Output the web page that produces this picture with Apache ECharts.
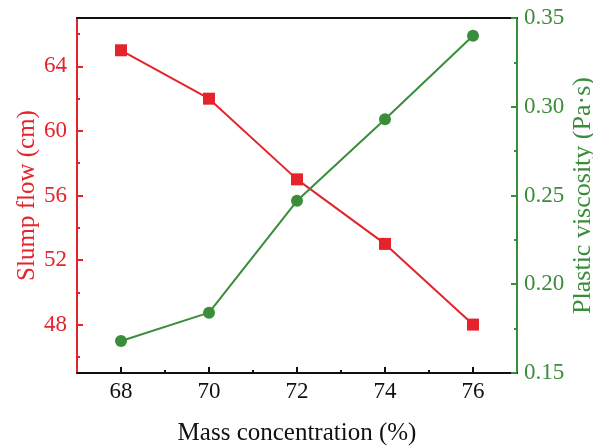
<!DOCTYPE html>
<html>
<head>
<meta charset="utf-8">
<script src="https://cdn.jsdelivr.net/npm/echarts@6/dist/echarts.min.js"></script>
<style>
	html,body{margin:0;padding:0;background:#fff;overflow:hidden;}
	#chart{width:593px;height:446px;}
</style>
</head>
<body>
<div id="chart"></div>
<script>
// data
var concentration = [68, 70, 72, 74, 76];
var slumpFlow = [65, 62, 57, 53, 48];
var viscosity = [0.168, 0.184, 0.247, 0.293, 0.340];

var xTicks = [68, 70, 72, 74, 76];
var xMinor = [69, 71, 73, 75];
var leftTicks = [48, 52, 56, 60, 64];
var leftMinor = [46, 50, 54, 58, 62, 66];

var RED = '#e5232b';
var GREEN = '#3a8d3a';
var FONT = '"Liberation Serif", "DejaVu Serif", serif';

var chart = echarts.init(document.getElementById('chart'));

function pairs(xs, ys){
	var out = [];
	for(var i = 0; i < xs.length; i++){
		out.push([xs[i], ys[i]]);
	}
	return out;
}

var option = {
	backgroundColor: '#fff',
	animation: false,
	grid: {left: 77, right: 76, top: 18, bottom: 73, outerBoundsMode: 'none'},
	xAxis: [
		{
			type: 'value', position: 'bottom', offset: 0,
			min: 67, max: 77,
			axisLine: {lineStyle: {color: '#111', width: 2}},
			axisTick: {inside: true, length: 6, lineStyle: {color: '#111', width: 2}, customValues: xTicks},
			axisLabel: {customValues: xTicks, color: '#111', fontSize: 23, fontFamily: FONT, margin: 7},
			splitLine: {show: false},
			name: 'Mass concentration (%)', nameLocation: 'middle', nameGap: 48, nameMoveOverlap: false,
			nameTextStyle: {color: '#111', fontSize: 25, fontFamily: FONT}
		},
		{
			type: 'value', position: 'bottom', offset: 0,
			min: 67, max: 77,
			axisLine: {show: false},
			axisTick: {inside: true, length: 3, lineStyle: {color: '#111', width: 2}, customValues: xMinor},
			axisLabel: {show: false},
			splitLine: {show: false}
		},
		{
			type: 'value', position: 'top', offset: 0,
			min: 67, max: 77,
			axisLine: {lineStyle: {color: '#111', width: 2}},
			axisTick: {show: false},
			axisLabel: {show: false},
			splitLine: {show: false}
		}
	],
	yAxis: [
		{
			type: 'value', position: 'left', offset: 0,
			min: 45, max: 67,
			axisLine: {show: true, lineStyle: {color: RED, width: 2}},
			axisTick: {show: true, inside: true, length: 6, lineStyle: {color: RED, width: 2}, customValues: leftTicks},
			axisLabel: {customValues: leftTicks, color: RED, fontSize: 23, fontFamily: FONT, margin: 10},
			splitLine: {show: false},
			name: 'Slump flow (cm)', nameLocation: 'middle', nameGap: 37, nameRotate: 90, nameMoveOverlap: false,
			nameTextStyle: {color: RED, fontSize: 25, fontFamily: FONT}
		},
		{
			type: 'value', position: 'left', offset: 0,
			min: 45, max: 67,
			axisLine: {show: false},
			axisTick: {show: true, inside: true, length: 3, lineStyle: {color: RED, width: 2}, customValues: leftMinor},
			axisLabel: {show: false},
			splitLine: {show: false}
		},
		{
			type: 'value', position: 'right', offset: 0,
			min: 0.15, max: 0.35, interval: 0.05,
			axisLine: {show: true, lineStyle: {color: GREEN, width: 2}},
			axisTick: {show: true, inside: true, length: 6, lineStyle: {color: GREEN, width: 2}},
			minorTick: {show: true, splitNumber: 2, length: 3, lineStyle: {color: GREEN, width: 2}},
			axisLabel: {color: GREEN, fontSize: 23, fontFamily: FONT, margin: 7,
				formatter: function(v){ return v.toFixed(2); }},
			splitLine: {show: false},
			name: 'Plastic viscosity (Pa\u00b7s)', nameLocation: 'middle', nameGap: 53, nameRotate: 90, nameMoveOverlap: false,
			nameTextStyle: {color: GREEN, fontSize: 26, fontFamily: FONT}
		}
	],
	series: [
		{
			type: 'line', xAxisIndex: 0, yAxisIndex: 0,
			data: pairs(concentration, slumpFlow),
			symbol: 'rect', symbolSize: 12,
			lineStyle: {color: RED, width: 2},
			itemStyle: {color: RED}
		},
		{
			type: 'line', xAxisIndex: 0, yAxisIndex: 2,
			data: pairs(concentration, viscosity),
			symbol: 'circle', symbolSize: 12,
			lineStyle: {color: GREEN, width: 2},
			itemStyle: {color: GREEN}
		}
	]
};
chart.setOption(option);
</script>
</body>
</html>
